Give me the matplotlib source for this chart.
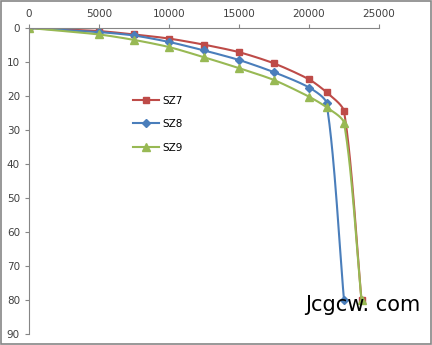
import numpy as np
import matplotlib.pyplot as plt
from matplotlib.patches import Rectangle

# data
sz7_x = [0, 5000, 7500, 10000, 12500, 15000, 17500, 20000, 21250, 22500, 23750]
sz7_y = [0, 0.9, 1.9, 3.1, 4.9, 7.1, 10.4, 15.1, 18.9, 24.5, 80]
sz8_x = [0, 5000, 7500, 10000, 12500, 15000, 17500, 20000, 21250, 22500]
sz8_y = [0, 1.2, 2.2, 4.1, 6.6, 9.4, 13.0, 17.5, 22.1, 80]
sz9_x = [0, 5000, 7500, 10000, 12500, 15000, 17500, 20000, 21250, 22500, 23750]
sz9_y = [0, 1.9, 3.5, 5.6, 8.6, 11.8, 15.3, 20.2, 23.3, 27.9, 80]

x_ticks = [0, 5000, 10000, 15000, 20000, 25000]
y_ticks = list(range(0, 100, 10))

XMAX, YMAX = 25000, 90


def smooth(x, y, n=40, k=0.25):
    # bezier through the points, tangent length tied to segment length (no overshoot)
    p = np.column_stack([np.array(x) / XMAX * 350, np.array(y) / YMAX * 306])
    m = len(p)
    tang = []
    for i in range(m):
        d = p[min(i + 1, m - 1)] - p[max(i - 1, 0)]
        tang.append(d / np.linalg.norm(d))
    t = np.linspace(0, 1, n)[:, None]
    out = []
    for i in range(m - 1):
        L = np.linalg.norm(p[i + 1] - p[i])
        c0, c3 = p[i], p[i + 1]
        c1 = c0 + tang[i] * L * k
        c2 = c3 - tang[i + 1] * L * k
        out.append((1 - t) ** 3 * c0 + 3 * (1 - t) ** 2 * t * c1 + 3 * (1 - t) * t ** 2 * c2 + t ** 3 * c3)
    c = np.vstack(out)
    return c[:, 0] / 350 * XMAX, c[:, 1] / 306 * YMAX


fig = plt.figure(figsize=(4.32, 3.45), dpi=100)
ax = fig.add_axes([29 / 432, 1 - 334 / 345, 350 / 432, 306 / 345])

series = [
    ('SZ7', sz7_x, sz7_y, '#BE4B48', 's', 5),
    ('SZ8', sz8_x, sz8_y, '#4A7EBB', 'D', 3.6),
    ('SZ9', sz9_x, sz9_y, '#98B954', '^', 5.5),
]
for name, x, y, col, m, ms in series:
    sx, sy = smooth(x, y)
    ax.plot(sx, sy, color=col, lw=1.5)
    ax.plot(x, y, ls='none', marker=m, color=col, ms=ms)
    ax.plot([], [], color=col, lw=1.5, marker=m, ms=ms, label=name)

ax.set_xlim(0, XMAX)
ax.set_ylim(YMAX, 0)
ax.set_xticks(x_ticks)
ax.set_yticks(y_ticks)
ax.xaxis.tick_top()
ax.tick_params(axis='both', labelsize=7.5, colors='#868686', labelcolor='#404040', length=3, width=0.8)
for s in ['right', 'bottom']:
    ax.spines[s].set_visible(False)
for s in ['top', 'left']:
    ax.spines[s].set_color('#868686')

ax.legend(loc='upper left', bbox_to_anchor=(0.27, 0.81), frameon=False, fontsize=7.5,
          handlelength=2.5, labelspacing=1.3, handletextpad=0.3)

fig.text(305 / 432, 1 - 305 / 345, 'Jcgcw. com', fontsize=15, color='black', va='center', ha='left')
fig.patches.append(Rectangle((0.002, 0.003), 0.995, 0.993, transform=fig.transFigure,
                             fill=False, edgecolor='#868686', lw=1.2))

fig.savefig('out.png', dpi=100)
